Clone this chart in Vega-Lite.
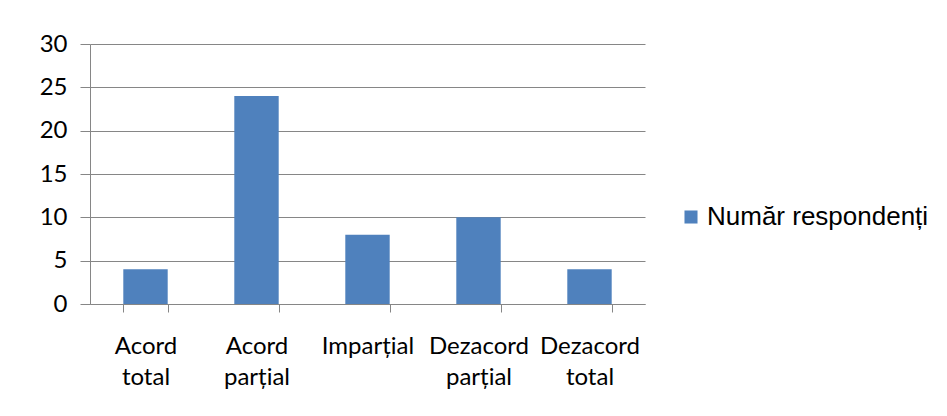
{
  "$schema": "https://vega.github.io/schema/vega-lite/v6.json",
  "autosize": "none",
  "width": 555,
  "height": 260,
  "padding": {"left": 90, "top": 44, "right": 302, "bottom": 112},
  "background": "white",
  "data": {"values": [
    {"cat": "Acord total", "val": 4, "series": "Număr respondenți"},
    {"cat": "Acord parțial", "val": 24, "series": "Număr respondenți"},
    {"cat": "Imparțial", "val": 8, "series": "Număr respondenți"},
    {"cat": "Dezacord parțial", "val": 10, "series": "Număr respondenți"},
    {"cat": "Dezacord total", "val": 4, "series": "Număr respondenți"}
  ]},
  "mark": {"type": "bar", "color": "#4F81BD"},
  "encoding": {
    "x": {
      "field": "cat", "type": "nominal", "sort": null,
      "scale": {"paddingInner": 0.6, "paddingOuter": 0.3},
      "axis": {
        "title": null, "labelAngle": 0, "labelExpr": "split(datum.label, ' ')",
        "labelFont": "Lato", "labelFontSize": 24, "labelColor": "#000000",
        "labelLineHeight": 31, "labelPadding": 22, "labelBaseline": "top",
        "tickBand": "extent", "tickSize": 8, "tickColor": "#868686",
        "domainColor": "#868686", "grid": false
      }
    },
    "y": {
      "field": "val", "type": "quantitative",
      "scale": {"domain": [0, 30], "nice": false},
      "axis": {
        "title": null, "values": [0, 5, 10, 15, 20, 25, 30],
        "labelFont": "Lato", "labelFontSize": 24, "labelColor": "#000000",
        "labelPadding": 13, "tickSize": 10, "tickColor": "#868686",
        "domainColor": "#868686", "grid": true, "gridColor": "#868686"
      }
    },
    "color": {
      "field": "series", "type": "nominal",
      "scale": {"range": ["#4F81BD"]},
      "legend": {
        "title": null, "orient": "none", "legendX": 588, "legendY": 160,
        "symbolType": "square", "symbolSize": 170, "symbolStrokeWidth": 0,
        "labelFont": "Liberation Sans", "labelFontSize": 26, "labelColor": "#000000",
        "labelOffset": 3, "labelLimit": 400
      }
    }
  },
  "config": {"view": {"stroke": null}, "axis": {"domainWidth": 1, "gridWidth": 1, "tickWidth": 1}}
}
